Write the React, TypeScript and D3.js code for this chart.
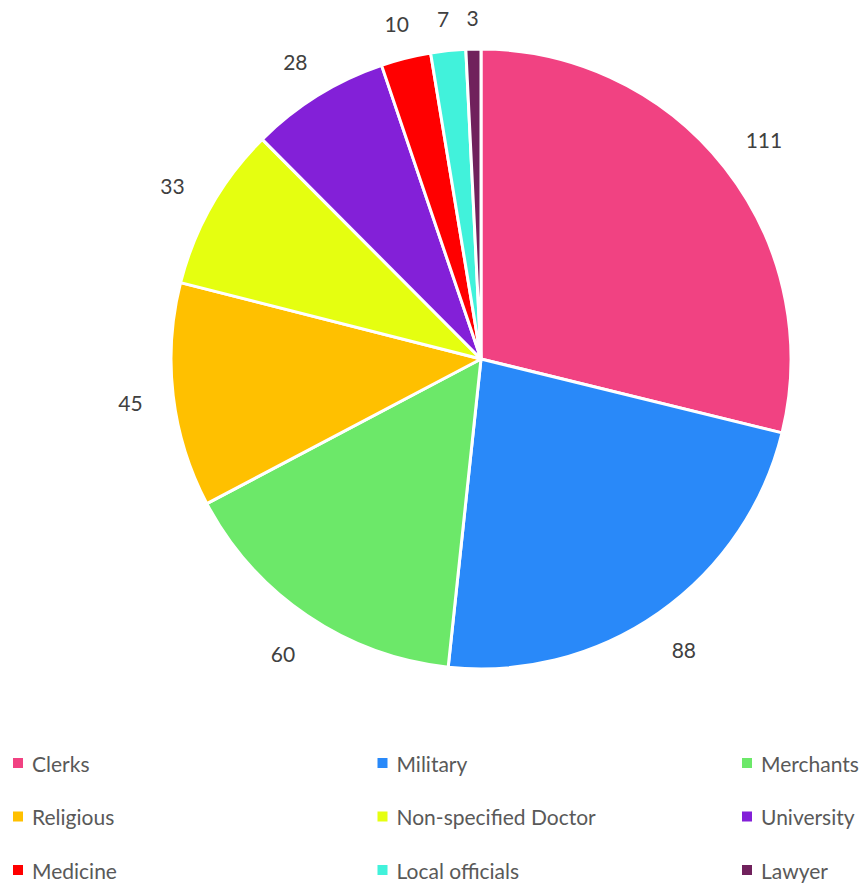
import * as d3 from "d3";
import { useEffect, useRef } from "react";

const categories = ["Clerks", "Military", "Merchants", "Religious", "Non-specified Doctor", "University", "Medicine", "Local officials", "Lawyer"];
const values = [111, 88, 60, 45, 33, 28, 10, 7, 3];
const colors = ["#F14282", "#2989F9", "#6CE869", "#FFC000", "#E5FF10", "#8320D8", "#FF0000", "#41F2DB", "#70215C"];

export default function App() {
  const ref = useRef<SVGSVGElement>(null);

  useEffect(() => {
    const svg = d3.select(ref.current);
    svg.selectAll("*").remove();

    const cx = 481, cy = 359, r = 310;
    const font = "Lato, 'Open Sans', sans-serif";

    const color = d3.scaleOrdinal<string, string>().domain(categories).range(colors);
    const pie = d3.pie<number>().value((d) => d).sort(null);
    const arc = d3.arc<d3.PieArcDatum<number>>().innerRadius(0).outerRadius(r);
    const arcs = pie(values);

    const g = svg.append("g").attr("transform", `translate(${cx},${cy})`);

    g.selectAll("path.slice")
      .data(arcs)
      .enter()
      .append("path")
      .attr("class", "slice")
      .attr("d", (d) => arc(d))
      .attr("fill", (d, i) => color(categories[i]))
      .attr("stroke", "#fff")
      .attr("stroke-width", 3)
      .attr("stroke-linejoin", "round");

    // outside-end labels: keep the label box a fixed gap away from the rim
    const digitW = 11.6;
    const labels = arcs.map((d) => {
      const a = (d.startAngle + d.endAngle) / 2;
      const s = Math.sin(a), c = Math.cos(a);
      const w = String(d.data).length * digitW;
      const rr = r + 20 + Math.abs(s) * (w / 2 + 10) + Math.abs(c) * 13;
      return { value: d.data, w, top: c > 0, x: s * rr, y: -c * rr + 2 };
    });
    // push crowded neighbours apart (small slices near the top)
    for (let i = labels.length - 2; i >= 0; i--) {
      const a = labels[i], b = labels[i + 1];
      if (!a.top || !b.top || Math.abs(a.y - b.y) > 20) continue;
      const need = (a.w + b.w) / 2 + 18;
      if (b.x - a.x < need) a.x = b.x - need;
    }

    g.selectAll("text.lbl")
      .data(labels)
      .enter()
      .append("text")
      .attr("class", "lbl")
      .attr("x", (d) => d.x)
      .attr("y", (d) => d.y)
      .attr("text-anchor", "middle")
      .attr("dominant-baseline", "central")
      .style("font-family", font)
      .style("font-size", "21px")
      .style("fill", "#404040")
      .text((d) => d.value);

    // legend, 3 columns
    const colX = d3.scalePoint<number>().domain([0, 1, 2]).range([13, 742]);
    const rowY = d3.scalePoint<number>().domain([0, 1, 2]).range([763, 870]);

    const leg = svg.selectAll("g.leg")
      .data(categories)
      .enter()
      .append("g")
      .attr("class", "leg")
      .attr("transform", (d, i) => `translate(${colX(i % 3)},${rowY(Math.floor(i / 3))})`);

    leg.append("rect")
      .attr("x", 0)
      .attr("y", -5)
      .attr("width", 10)
      .attr("height", 10)
      .attr("fill", (d) => color(d));

    leg.append("text")
      .attr("x", 19)
      .attr("y", 0)
      .attr("dominant-baseline", "central")
      .style("font-family", font)
      .style("font-size", "21px")
      .style("fill", "#595959")
      .text((d) => d);
  }, []);

  return (
    <svg ref={ref} width={863} height={883} style={{ position: "absolute", left: 0, top: 0 }} />
  );
}
